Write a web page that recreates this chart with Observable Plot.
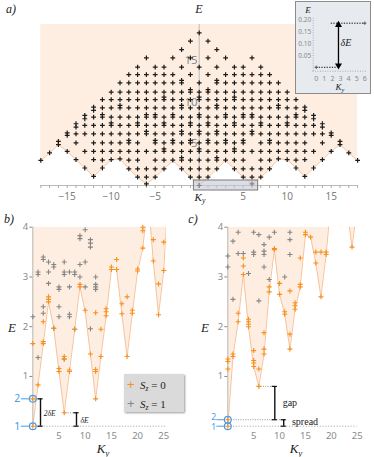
<!DOCTYPE html>
<html><head><meta charset="utf-8">
<script src="https://cdn.jsdelivr.net/npm/d3@7"></script>
<script src="https://cdn.jsdelivr.net/npm/@observablehq/plot@0.6"></script>
<style>
html,body{margin:0;padding:0;background:#fff;}
#root{position:relative;width:374px;height:457px;overflow:hidden;background:#fff;font-family:"Liberation Sans",sans-serif;}
#root svg{position:absolute;overflow:visible;}
.lbl{position:absolute;white-space:nowrap;line-height:1;transform:translate(-50%,-50%);}
.ser{font-family:"Liberation Serif","DejaVu Serif",serif;font-style:italic;color:#222;}
sub{font-size:70%;vertical-align:-0.25em;}
</style></head>
<body><div id="root"></div>
<script>
// ================= DATA =================
// Panel a: spectrum over Ky = -18..18 (levels listed by |Ky|)
const aKy = [-18,-17,-16,-15,-14,-13,-12,-11,-10,-9,-8,-7,-6,-5,-4,-3,-2,-1,0,1,2,3,4,5,6,7,8,9,10,11,12,13,14,15,16,17,18];
const aEnvE = [3.0,3.9,4.9,4.1,3.1,2.1,1.1,2.1,3.1,3.2,2.0,1.0,0.2,1.0,2.0,3.0,2.0,1.0,0,1.0,2.0,3.0,2.0,1.0,0.2,1.0,2.0,3.2,3.1,2.1,1.1,2.1,3.1,4.1,4.9,3.9,3.0];
const aTopE = 19.3;
const aAbsKy = [0,1,2,3,4,5,6,7,8,9,10,11,12,13,14,15,16,17,18];
const aLevels = [
  "0 1.0 2.0 3.05 4.1 4.4 5.1 6.2 6.5 7.2 8.2 8.5 9.3 10.3 10.6 11.2 12.3 14.2 18.3",
  "1.0 2.0 3.05 4.1 5.1 5.4 6.2 7.2 7.5 8.2 9.3 10.3 11.2 11.5 13.3 15.3 17.3",
  "2.0 3.05 3.35 4.1 5.1 6.2 6.5 7.2 8.2 9.3 9.6 10.3 11.2 12.3 12.6 14.2 16.3",
  "3.05 4.1 5.1 5.4 6.2 7.2 8.2 8.5 9.3 10.3 11.2 12.3 13.3 15.3",
  "2.0 3.05 4.1 4.4 5.1 6.2 7.2 7.5 8.2 9.3 10.3 10.6 11.2 12.3 13.3 14.2",
  "1.0 2.0 3.05 4.1 5.1 5.4 6.2 7.2 8.2 8.5 9.3 10.3 11.2 12.3 13.3 14.2",
  "0.2 1.0 2.0 4.1 6.2 6.5 7.2 8.2 8.5 9.3 10.3 11.2 12.3 13.3 15.3",
  "1.0 2.0 3.05 4.1 5.1 6.2 7.2 7.5 8.2 9.3 10.3 11.2 12.3 13.3 14.2",
  "2.0 3.05 4.1 5.1 5.4 6.2 7.2 8.2 9.3 10.3 11.2 12.3 13.3",
  "3.2 4.1 5.1 6.2 7.2 8.2 9.3 9.6 10.3 11.2 12.3",
  "3.1 4.1 5.1 6.2 7.2 7.5 8.2 9.3 10.3 11.2",
  "2.1 3.05 4.1 5.1 6.2 7.2 8.2 8.5 9.3 10.3",
  "1.1 3.1 4.1 5.1 6.2 7.2 8.2 9.0 9.4",
  "2.1 4.1 6.2 7.2 8.0 8.4",
  "3.1 5.1 6.2 7.0 7.4",
  "4.1 6.0 6.3",
  "4.9 5.3",
  "3.9",
  "3.0"
];
const aXTickAll = [-18,-17,-16,-15,-14,-13,-12,-11,-10,-9,-8,-7,-6,-5,-4,-3,-2,-1,0,1,2,3,4,5,6,7,8,9,10,11,12,13,14,15,16,17,18];
const aXTicks = [-15,-10,-5,5,10,15];
const aYTicks = [5,10,15];
const aWindow = [{ky1:-0.6, ky2:6.7, e1:-0.6, e2:0.6}];

// Inset
const insKy = [0,6];
const insE = [0.005,0.185];
const insXTicks = [0,1,2,3,4,5,6];
const insYTicks = [0.05,0.10,0.15,0.20];
const insGuides = [{x1:0,x2:2.6,e:0.005},{x1:1.8,x2:6,e:0.185}];
const insArrow = {ky:2.75, e1:0.012, e2:0.178};

// Panel b
const bKy0 = [0,0,0,1,2,2,2,3,3,3,4,5,5,6,6,6,7,7,8,9,9,10,11,12,12,12,12,13,13,14,14,14,15,15,16,16,17,17,18,18,19,19,20,20,21,21,21,23,23,24,24,25,25];
const bE0  = [0,0.55,1.66,0.83,1.66,1.7,2.1,2.5,2.55,2.6,1.97,1.1,1.16,0.27,1.35,1.4,1.1,1.13,1.95,2.8,2.85,2.33,1.45,0.55,1.1,1.14,2.28,1.4,1.95,2.22,2.3,2.36,3.15,3.2,3.15,3.35,2.26,2.46,1.4,2.6,2.27,2.33,3.12,3.16,3.58,3.93,4.0,3.32,3.75,2.24,2.86,3.13,3.7];
const bKy1 = [0,1,1,1,2,2,2,2,3,3,3,4,4,4,5,5,5,5,6,6,6,6,7,7,7,7,8,8,8,9,9,9,9,10,10,10,11,11,11,11,12,12,12,12];
const bE1  = [2.2,1.38,3.05,3.1,2.27,2.4,3.35,3.4,2.87,3.1,3.3,1.97,3.2,3.25,2.2,2.4,2.75,2.8,1.35,3.05,3.1,3.3,2.2,2.25,2.8,3.1,1.95,3.05,3.1,3.0,3.25,3.77,3.83,2.8,3.3,3.95,1.96,3.6,3.68,3.75,2.75,2.8,2.85,3.0];
const bEnvKy = [0,1,2,3,4,5,6,7,8,9,10,11,12,13,14,15,16,17,18,19,20,21,22,23,24,25,25.5];
const bEnvE  = [0,0.83,1.66,2.5,1.97,1.1,0.27,1.1,1.95,2.8,2.3,1.45,0.55,1.4,2.22,3.15,3.15,2.26,1.4,2.27,3.12,3.58,4.6,3.32,2.24,3.13,4.1];
const bStates = [0,0.55];
const bStateLabels = ["1","2"];

// Panel c
const cKy0 = [0,0,0,0,0,1,1,2,2,3,3,3,4,4,4,4,5,5,5,5,6,6,7,7,7,8,8,9,9,10,10,11,11,12,12,12,13,13,13,14,14,14,15,15,16,17,17,18,18,19,19,24];
const cE0  = [0,0.13,1.15,1.3,1.35,1.4,1.45,2.1,2.27,3.05,3.22,3.38,2.0,2.05,2.1,2.15,1.2,1.27,1.32,1.52,0.8,1.15,1.45,1.55,1.88,2.7,2.8,3.55,3.57,2.65,2.87,2.25,2.3,1.55,1.85,2.72,2.35,2.42,2.48,2.8,2.85,3.38,3.85,3.9,3.8,3.28,3.5,2.6,3.5,3.45,3.5,3.6];
const cKy1 = [0,0,1,1,2,2,3,4,5,5,5,6,6,7,7,7,7,8,8,9,11,12,12,12];
const cE1  = [3.2,3.42,2.55,3.72,3.47,3.9,3.47,3.07,3.45,3.5,3.9,2.52,3.85,3.2,3.45,3.52,3.65,2.95,3.8,3.9,3.0,3.45,3.75,3.9];
const cEnvKy = [0,1,2,3,4,5,6,7,8,9,10,11,12,13,14,15,16,17,18,19,20,21,22,23,24,25];
const cEnvE  = [0,1.4,2.1,3.05,2.0,1.2,0.8,1.45,2.7,3.55,2.65,2.25,1.55,2.35,2.8,3.85,3.8,3.28,2.6,3.45,4.6,4.8,4.8,4.4,3.6,4.4];
const cStates = [0,0.13];
const cStateLabels = ["1","2"];

const spXTicks = [5,10,15,20,25];
const spYTicks = [1,2,3,4];

// ================= STYLE =================
const ORANGE = "#f7901e", GRAY = "#868686", BLUE = "#4a9be6", SHADE = "#fdeee1", ENVLINE = "#f8c39a";
const SERIF = "Liberation Serif, DejaVu Serif, serif";
const fmtInt = d3.format("d");
const plusSym = { draw(ctx, size) { const r = Math.sqrt(size / Math.PI); ctx.moveTo(-r, 0); ctx.lineTo(r, 0); ctx.moveTo(0, -r); ctx.lineTo(0, r); } };

const root = document.getElementById("root");
function place(el, left, top, parent) { el.style.left = left + "px"; el.style.top = top + "px"; (parent || root).appendChild(el); return el; }
function label(html, cx, cy, css, parent) {
  const d = document.createElement("div"); d.className = "lbl " + (css || ""); d.innerHTML = html;
  d.style.left = cx + "px"; d.style.top = cy + "px"; (parent || root).appendChild(d); return d;
}

// ================= PANEL A =================
const aEnv = aKy.map((k, i) => ({ky: k, e: aEnvE[i], top: aTopE}));
const aPoints = [];
aAbsKy.forEach((k, i) => {
  const es = aLevels[i].split(" ").map(Number);
  for (const s of (k === 0 ? [1] : [-1, 1])) for (const e of es) aPoints.push({ky: s * k, e});
});
const plotA = Plot.plot({
  width: 374, height: 205, marginLeft: 40.3, marginRight: 16.9, marginTop: 24, marginBottom: 20,
  x: {domain: [-18, 18], axis: null}, y: {domain: [0, aTopE], axis: null},
  style: {background: "transparent", overflow: "visible"},
  marks: [
    Plot.areaY(aEnv, {x: "ky", y1: "e", y2: "top", fill: SHADE}),
    Plot.line(aEnv, {x: "ky", y: "e", stroke: ENVLINE, strokeWidth: 1}),
    Plot.ruleY([0], {stroke: "#aaa", strokeWidth: 0.8}),
    Plot.ruleX([0], {stroke: "#b0b0b0", strokeWidth: 0.8}),
    Plot.axisX({ticks: aXTickAll, tickSize: 3, tickFormat: () => "", color: "#aaa"}),
    Plot.axisX({ticks: aXTicks, tickSize: 0, tickPadding: 7, fontSize: 10, color: "#808080", tickFormat: d => d3.format("d")(d).replace("-", "\u2212")}),
    Plot.text(aYTicks, {x: () => 0, y: d => d, text: d => String(d), textAnchor: "end", dx: -1.5, fill: "#8a8a8a", fontSize: 11.5}),
    Plot.dot(aPoints, {x: "ky", y: "e", symbol: plusSym, r: 2.4, fill: "none", stroke: "#1c1c1c", strokeWidth: 1.2}),
    Plot.rect(aWindow, {x1: "ky1", x2: "ky2", y1: "e1", y2: "e2", fill: "#c3cad4", fillOpacity: 0.6, stroke: "#7a7a7a", strokeWidth: 1})
  ]
});
place(plotA, 0, 0);
label("a)", 11, 9, "ser").style.fontSize = "12px";
label("E", 199, 9, "ser").style.fontSize = "12px";
label("K<sub>y</sub>", 200, 198, "ser").style.fontSize = "11px";

// ================= INSET =================
const inset = document.createElement("div");
inset.style.cssText = "position:absolute;left:295px;top:1px;width:74px;height:91px;border:1px solid #8c8c8c;background:#e7eaee;";
root.appendChild(inset);
const insPts = insKy.map((k, i) => ({ky: k, e: insE[i]}));
const plotIns = Plot.plot({
  width: 74, height: 91, marginLeft: 19.7, marginRight: 5.7, marginTop: 17, marginBottom: 25,
  x: {domain: [0, 6], axis: null}, y: {domain: [0, 0.2], axis: null},
  style: {background: "transparent", overflow: "visible"},
  marks: [
    Plot.ruleX([-0.37], {y1: -0.012, y2: 0.205, stroke: "#9a9a9a", strokeWidth: 0.8, strokeDasharray: "1,1.5"}),
    Plot.ruleY([-0.011], {x1: -0.4, x2: 6.3, stroke: "#9a9a9a", strokeWidth: 0.8, strokeDasharray: "1,1.5"}),
    Plot.axisY({ticks: insYTicks, tickFormat: d3.format(".2f"), tickSize: 0, tickPadding: 5, fontSize: 6.5, color: "#8a8a8a"}),
    Plot.axisX({ticks: insXTicks, tickFormat: fmtInt, tickSize: 0, tickPadding: 7.5, fontSize: 7, color: "#8a8a8a"}),
    Plot.link(insGuides, {x1: "x1", x2: "x2", y1: "e", y2: "e", stroke: "#111", strokeWidth: 1, strokeDasharray: "1.3,1.3"}),
    Plot.dot(insPts, {x: "ky", y: "e", symbol: plusSym, r: 1.6, fill: "none", stroke: "#555", strokeWidth: 1}),
    Plot.ruleX([insArrow], {x: "ky", y1: "e1", y2: "e2", stroke: "#000", strokeWidth: 1.3}),
    Plot.dot([insArrow], {x: "ky", y: "e2", symbol: "triangle", r: 2.6, fill: "#000"}),
    Plot.dot([insArrow], {x: "ky", y: "e1", symbol: "triangle", r: 2.6, fill: "#000", rotate: 180})
  ]
});
place(plotIns, 0, 0, inset);
label("E", 12, 8, "ser", inset).style.fontSize = "9px";
label("K<sub>y</sub>", 44, 86, "ser", inset).style.fontSize = "9px";
label("δE", 50, 41, "ser", inset).style.fontSize = "10px";

// ================= PANELS B, C =================
function spectrum(cfg) {
  const env = cfg.envKy.map((k, i) => ({ky: k, e: cfg.envE[i], top: 4}));
  const p0 = cfg.ky0.map((k, i) => ({ky: k, e: cfg.e0[i]}));
  const p1 = cfg.ky1.map((k, i) => ({ky: k, e: cfg.e1[i]}));
  const st = cfg.states.map((e, i) => ({e, t: cfg.stateLabels[i], z: 0}));
  return Plot.plot({
    width: cfg.w, height: 242, marginLeft: cfg.ml, marginRight: cfg.mr, marginTop: 11.7, marginBottom: 31.3,
    x: {domain: cfg.xdom, axis: null}, y: {domain: [0, 4], axis: null},
    style: {background: "transparent", overflow: "visible"},
    marks: [
      Plot.areaY(env, {x: "ky", y1: "e", y2: "top", fill: SHADE, clip: true}),
      Plot.line(env, {x: "ky", y: "e", stroke: ENVLINE, strokeWidth: 1, clip: true}),
      Plot.ruleX([0], {stroke: "#aaa", strokeWidth: 0.8}),
      Plot.ruleY([0], {x1: 0, x2: cfg.xdom[1], stroke: "#999", strokeWidth: 0.8, strokeDasharray: "1.2,1.6"}),
      Plot.axisY({ticks: spYTicks, tickFormat: fmtInt, tickSize: 3, tickPadding: 1.5, fontSize: 9.5, color: "#8a8a8a"}),
      Plot.axisX({ticks: spXTicks, tickFormat: fmtInt, tickSize: 0, tickPadding: 6.5, fontSize: 9.5, color: "#8a8a8a"}),
      ...cfg.annot,
      Plot.dot(p1, {x: "ky", y: "e", symbol: plusSym, r: 2.5, fill: "none", stroke: GRAY, strokeWidth: 1.1}),
      Plot.dot(p0, {x: "ky", y: "e", symbol: plusSym, r: 2.5, fill: "none", stroke: ORANGE, strokeWidth: 1.1}),
      Plot.dot(st, {x: "z", y: "e", r: 3.4, fill: "none", stroke: BLUE, strokeWidth: 1.2}),
      Plot.link(st, {x1: () => cfg.dash[0], x2: () => cfg.dash[1], y1: "e", y2: "e", stroke: BLUE, strokeWidth: 1}),
      Plot.text([st[0]], {x: "z", y: "e", text: "t", dx: cfg.lblDx, dy: cfg.lblDy[0], fill: BLUE, fontSize: cfg.lblSize}),
      Plot.text([st[1]], {x: "z", y: "e", text: "t", dx: cfg.lblDx, dy: cfg.lblDy[1], fill: BLUE, fontSize: cfg.lblSize})
    ]
  });
}
function bracket(x, e1, e2, half) {
  return [
    Plot.ruleX([{x, e1, e2}], {x: "x", y1: "e1", y2: "e2", stroke: "#111", strokeWidth: 1.4}),
    Plot.ruleY([e1, e2], {x1: () => x - half, x2: () => x + half, y: d => d, stroke: "#111", strokeWidth: 1.2})
  ];
}
const dotted = {stroke: "#888", strokeWidth: 0.9, strokeDasharray: "1,1.4"};

// panel b annotations
const bAnnot = [
  Plot.link([{x1: 0.6, x2: 1.5, e: 0.55}, {x1: 6.2, x2: 8.3, e: 0.27}], {x1: "x1", x2: "x2", y1: "e", y2: "e", ...dotted}),
  ...bracket(1.47, 0, 0.55, 0.5),
  ...bracket(8.34, 0, 0.27, 0.5),
  Plot.text([{x: 2.1, e: 0.26, t: "2δE"}, {x: 9.1, e: 0.12, t: "δE"}], {x: "x", y: "e", text: "t", textAnchor: "start", fontSize: 7.5, fontStyle: "italic", fontFamily: SERIF, fill: "#222"})
];
const plotB = spectrum({w: 190, ml: 32.3, mr: 24.1, xdom: [0, 25.5], envKy: bEnvKy, envE: bEnvE,
  ky0: bKy0, e0: bE0, ky1: bKy1, e1: bE1, states: bStates, stateLabels: bStateLabels,
  dash: [-2.3, -0.65], lblDx: -15.6, lblDy: [0, 0], lblSize: 10.5, annot: bAnnot});
place(plotB, 0, 215);

// panel c annotations
const cAnnot = [
  Plot.link([{x1: 6.3, x2: 9.1, e: 0.8}, {x1: 0.6, x2: 11.3, e: 0.13}], {x1: "x1", x2: "x2", y1: "e", y2: "e", ...dotted}),
  ...bracket(9.08, 0.13, 0.8, 0.5),
  ...bracket(10.8, 0, 0.13, 0.5),
  Plot.text([{x: 10.6, e: 0.48, t: "gap"}, {x: 12.4, e: 0.095, t: "spread"}], {x: "x", y: "e", text: "t", textAnchor: "start", fontSize: 10, fontFamily: SERIF, fill: "#222"})
];
const plotC = spectrum({w: 189, ml: 42.3, mr: 17.3, xdom: [0, 25], envKy: cEnvKy, envE: cEnvE,
  ky0: cKy0, e0: cE0, ky1: cKy1, e1: cE1, states: cStates, stateLabels: cStateLabels,
  dash: [-2.2, -0.65], lblDx: -14, lblDy: [1.5, -2], lblSize: 8.5, annot: cAnnot});
place(plotC, 185, 215);

label("b)", 9, 219, "ser").style.fontSize = "12px";
label("c)", 193, 219, "ser").style.fontSize = "12px";
label("E", 12, 327, "ser").style.fontSize = "13px";
label("E", 205, 327, "ser").style.fontSize = "13px";
label("K<sub>y</sub>", 103, 450, "ser").style.fontSize = "13px";
label("K<sub>y</sub>", 296, 450, "ser").style.fontSize = "13px";

// legend (panel b)
const leg = document.createElement("div");
leg.style.cssText = "position:absolute;left:124px;top:374px;width:60px;height:38px;background:#dadada;box-shadow:1px 1px 2px #9a9a9a;font-family:" + SERIF + ";font-size:11px;color:#222;";
leg.innerHTML =
  '<div style="position:absolute;left:3px;top:3px;white-space:nowrap;"><span style="color:' + ORANGE + ';font-family:Liberation Sans,sans-serif;font-size:13px;">+</span>&nbsp;&nbsp;<i>S</i><sub><i>z</i></sub>&nbsp;=&nbsp;0</div>' +
  '<div style="position:absolute;left:3px;top:22px;white-space:nowrap;"><span style="color:' + GRAY + ';font-family:Liberation Sans,sans-serif;font-size:13px;">+</span>&nbsp;&nbsp;<i>S</i><sub><i>z</i></sub>&nbsp;=&nbsp;1</div>';
root.appendChild(leg);
</script>
</body></html>
